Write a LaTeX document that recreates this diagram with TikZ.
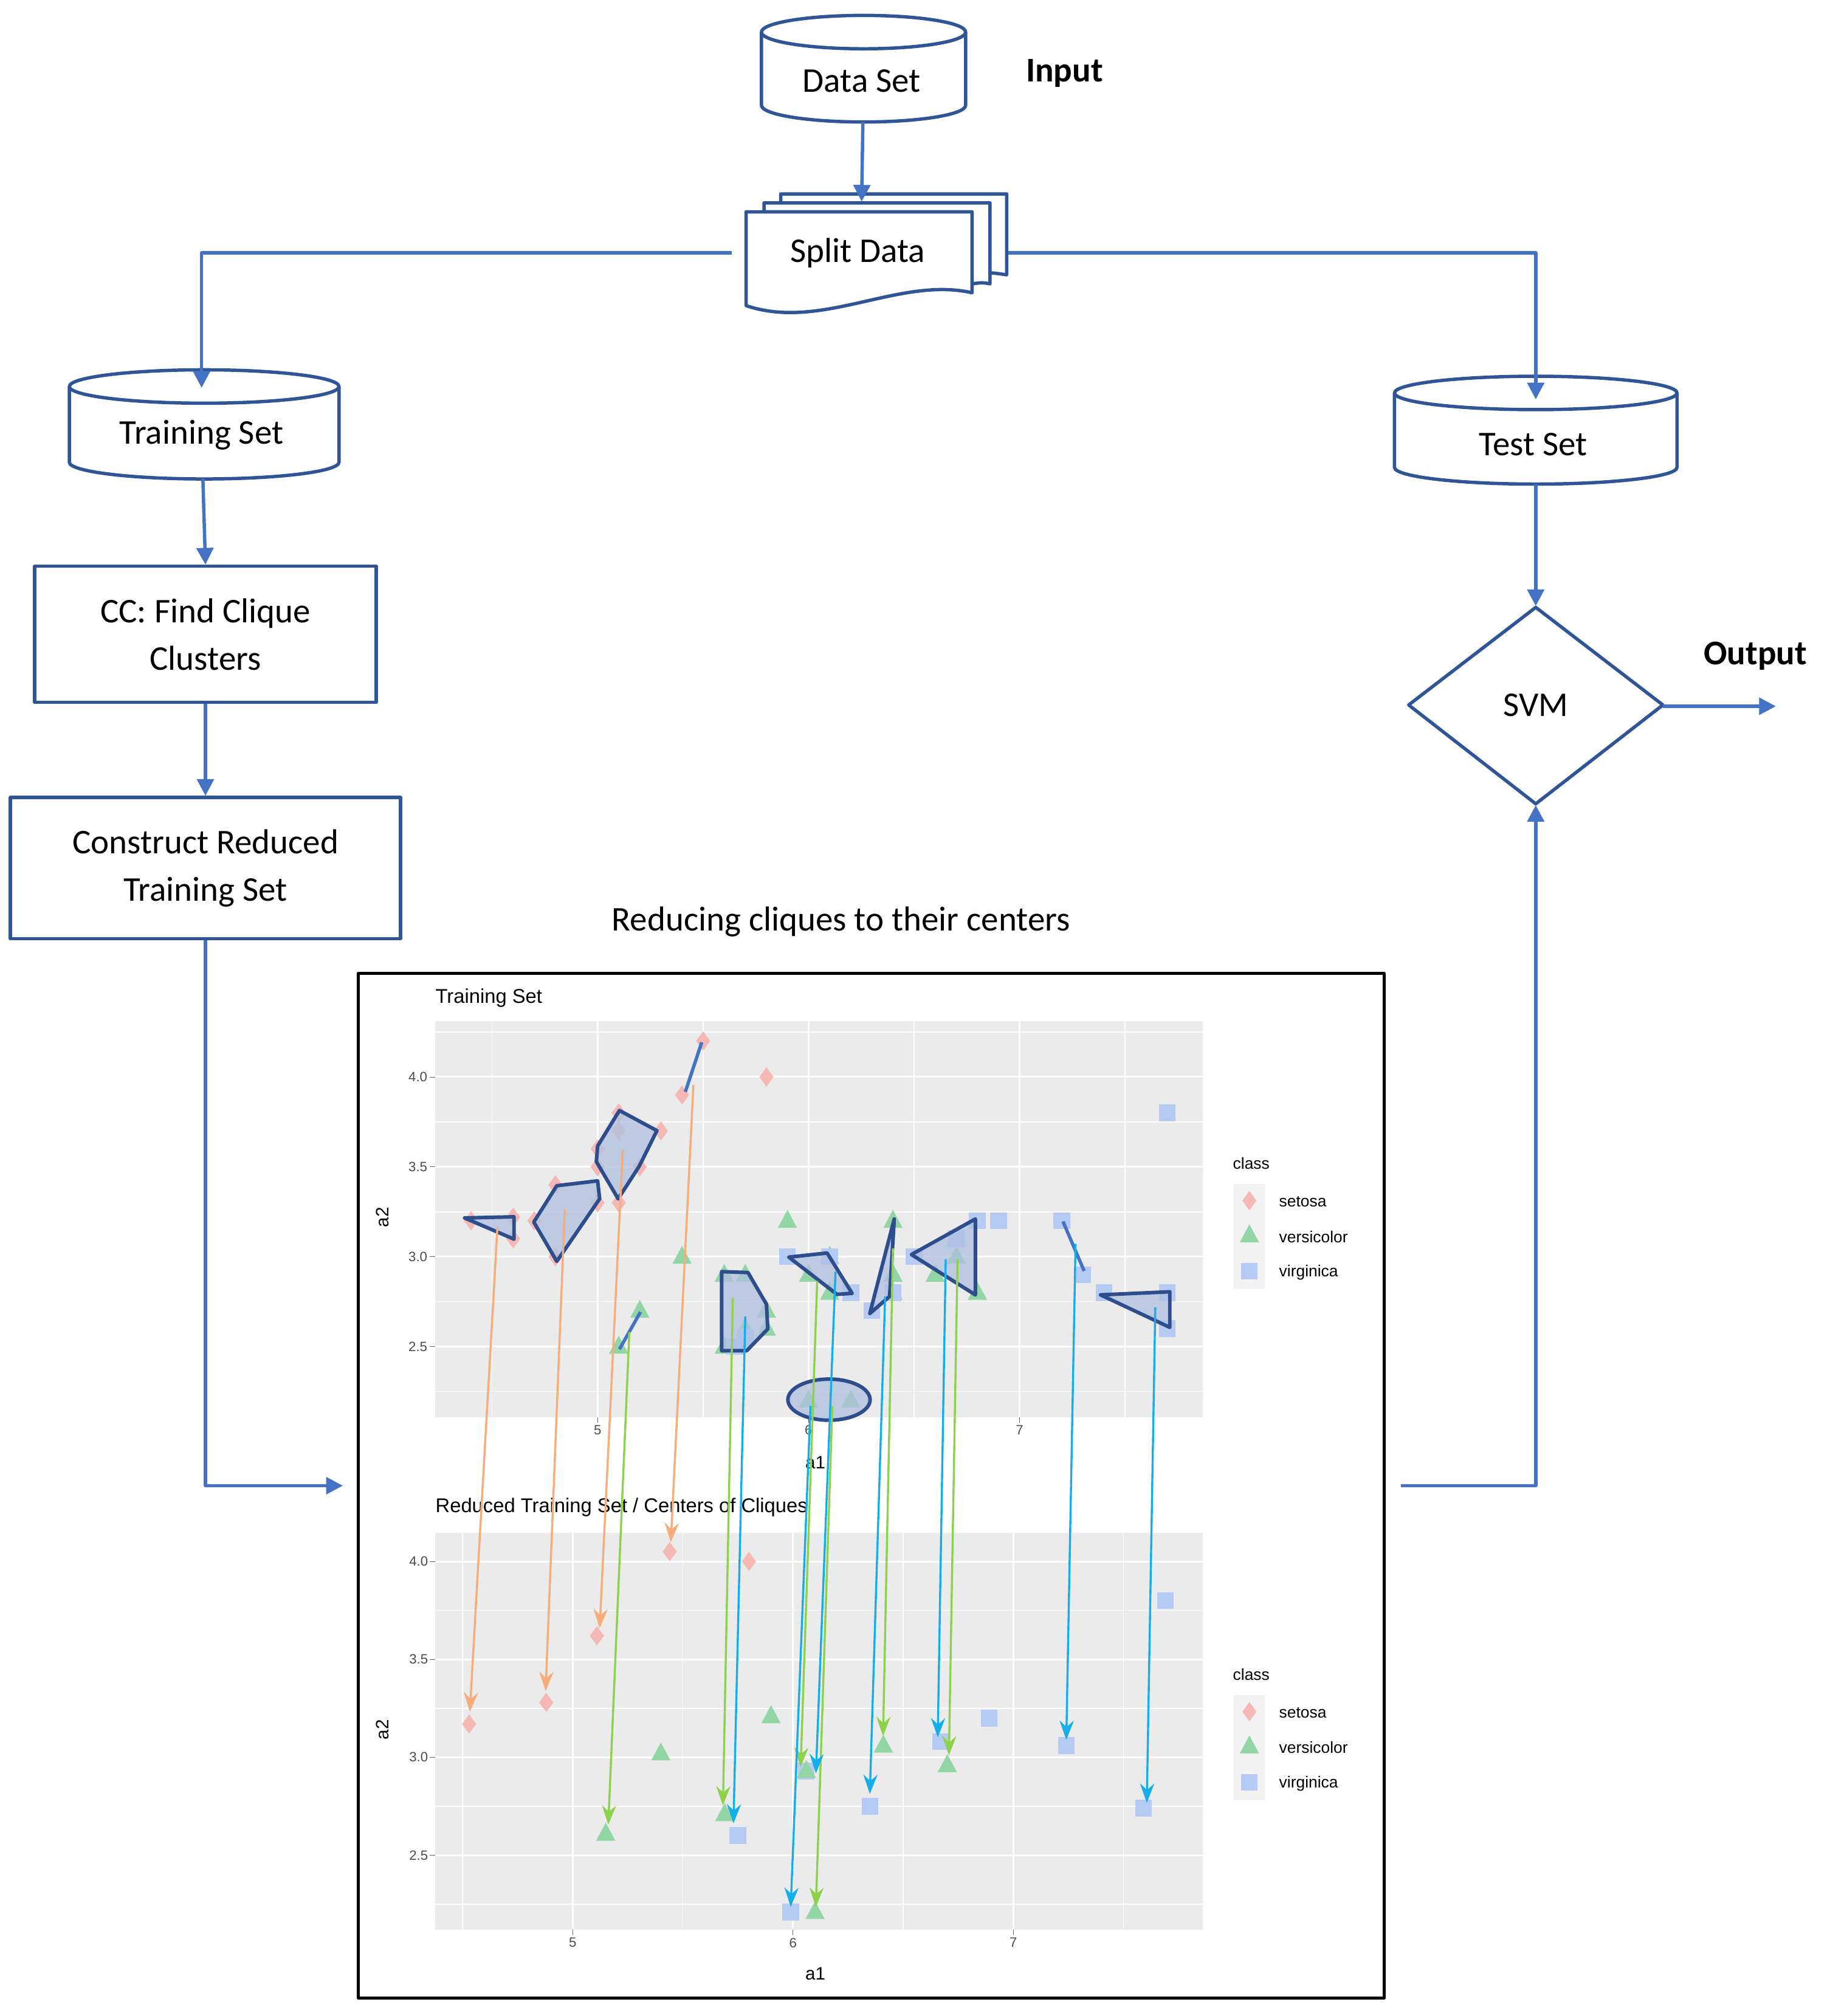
\documentclass[tikz,border=0pt]{standalone}
\usepackage{fontspec}
\setmainfont{Carlito}
\newfontfamily\plotf{Liberation Sans}
\usetikzlibrary{arrows.meta}
\definecolor{bord}{HTML}{2F5597}
\definecolor{conn}{HTML}{4472C4}
\definecolor{sef}{HTML}{F4B9B5}
\definecolor{vef}{HTML}{93D6A6}
\definecolor{vif}{HTML}{B5CBF4}
\definecolor{panel}{HTML}{EBEBEB}
\definecolor{orl}{HTML}{F7AC7A}
\definecolor{grl}{HTML}{8ED14C}
\definecolor{bll}{HTML}{14AEEA}
\definecolor{clq}{HTML}{2E4D8C}
\definecolor{clqf}{HTML}{AFC0E0}
\newcommand\ptSe[1]{\fill[sef] (#1) +(0pt,7.5pt) -- +(5.5pt,0pt) -- +(0pt,-7.5pt) -- +(-5.5pt,0pt) -- cycle;}
\newcommand\ptVe[1]{\fill[vef] (#1) +(0pt,8.5pt) -- +(7.5pt,-5.5pt) -- +(-7.5pt,-5.5pt) -- cycle;}
\newcommand\ptVi[1]{\fill[vif] (#1) +(-6.5pt,-6.5pt) rectangle +(6.5pt,6.5pt);}
\begin{document}
\begin{tikzpicture}[x=1pt,y=-1pt,line join=round,
  fc/.style={font=\fontsize{27}{33}\selectfont,align=center,inner sep=0},
  shp/.style={draw=bord,line width=2.6pt,fill=white},
  con/.style={draw=conn,line width=2.6pt},
  tip/.style={-{Triangle[length=13pt,width=13pt]}},
  tick/.style={font=\plotf\fontsize{10.5}{12}\selectfont,text=black!70,inner sep=1},
  ptitle/.style={font=\plotf\fontsize{15.5}{18}\selectfont,anchor=west,inner sep=0},
  axl/.style={font=\plotf\fontsize{14}{16}\selectfont,inner sep=0},
  leg/.style={font=\plotf\fontsize{12.5}{14}\selectfont,anchor=west,inner sep=0},
  clique/.style={draw=clq,line width=2.8pt,fill=clqf,fill opacity=0.75},
  seg/.style={draw=conn,line width=2.6pt},
  oa/.style={draw=orl,line width=1.6pt,-{Stealth[length=15pt,width=11pt,inset=5pt]}},
  ga/.style={draw=grl,line width=1.6pt,-{Stealth[length=15pt,width=11pt,inset=5pt]}},
  ba/.style={draw=bll,line width=1.6pt,-{Stealth[length=15pt,width=11pt,inset=5pt]}}]
\useasboundingbox (0,0) rectangle (1425,1570);

% ---------- Data Set cylinder
\path[shp] (593,25) -- (593,82) arc[start angle=180,end angle=360,x radius=79.5pt,y radius=13pt] -- (752,25);
\draw[shp] (672.5,25) ellipse[x radius=79.5pt,y radius=13pt];
\node[fc] (ds) at (671,63) {Data Set};
\node[fc,font=\fontsize{27}{33}\selectfont\bfseries] (inp) at (829,57) {Input};
\coordinate (dsb) at (672,95);

% ---------- Split Data (multi document)
\draw[shp] (608,151) -- (784,151) -- (784,214) .. controls (770,212) .. (760,214) -- (760,160) -- (608,160) -- cycle;
\draw[shp] (595,158) -- (771,158) -- (771,221) .. controls (765,220) .. (757,221) -- (757,165) -- (595,165) -- cycle;
\draw[shp] (581,165) -- (757,165) -- (757,228) .. controls (700,215) and (640,258) .. (581,238) -- cycle;
\node[fc] (sd) at (668,197) {Split Data};
\coordinate (sdt) at (671,157);
\coordinate (sdl) at (570,197);
\coordinate (sdr) at (785,197);

% ---------- Training Set cylinder
\path[shp] (54,301) -- (54,360) arc[start angle=180,end angle=360,x radius=105pt,y radius=13pt] -- (264,301);
\draw[shp] (159,301) ellipse[x radius=105pt,y radius=13pt];
\node[fc] (ts) at (157,339) {Training Set};
\coordinate (tst) at (157,302);
\coordinate (tsb) at (158,373);

% ---------- Test Set cylinder
\path[shp] (1086,306) -- (1086,364) arc[start angle=180,end angle=360,x radius=110pt,y radius=13pt] -- (1306,306);
\draw[shp] (1196,306) ellipse[x radius=110pt,y radius=13pt];
\node[fc] (tes) at (1194,346) {Test Set};
\coordinate (test) at (1196,311);
\coordinate (tesb) at (1196,377);

% ---------- boxes
\node[fc,shp,minimum width=266pt,minimum height=106pt] (cc) at (160,494) {CC: Find Clique\\[4pt]Clusters};
\node[fc,shp,minimum width=304pt,minimum height=110pt] (cr) at (160,676) {Construct Reduced\\[4pt]Training Set};

% ---------- SVM diamond
\draw[shp] (1196,473) -- (1295,549) -- (1196,626) -- (1097,549) -- cycle;
\node[fc] (svm) at (1196,549) {SVM};
\coordinate (svmt) at (1196,472);
\coordinate (svmb) at (1196,627);
\coordinate (svmr) at (1295,550);
\coordinate (outp) at (1383,550);
\node[fc,font=\fontsize{27}{33}\selectfont\bfseries] (outl) at (1367,511) {Output};

% ---------- connectors
\draw[con,tip] (dsb) -- (sdt);
\draw[con,tip] (sdl) -| (tst);
\draw[con,tip] (sdr) -| (test);
\draw[con,tip] (tsb) -- (cc.north);
\draw[con,tip] (cc.south) -- (cr.north);
\coordinate (plotin) at (267,1157);
\draw[con,tip] (cr.south) |- (plotin);
\draw[con,tip] (tesb) -- (svmt);
\draw[con,tip] (svmr) -- (outp);
\coordinate (plotout) at (1091,1157);
\draw[con,tip] (plotout) -| (svmb);

% ---------- plot frame and title
\node[fc] (rt) at (655,718) {Reducing cliques to their centers};
\draw[black,line width=2pt] (279,758) rectangle (1078,1556);
\node[ptitle] (t1) at (339,777) {Training Set};
\node[ptitle] (t2) at (339,1174) {Reduced Training Set / Centers of Cliques};

% ---------- top panel
\begin{scope}[shift={(-356.1,1398.7)},x=164.3pt,y=140pt]
 \fill[panel] (4.229,2.106) rectangle (7.868,4.31);
 \foreach \v in {4.5,5.5,6.5,7.5} {\draw[white,line width=0.7pt] (\v,2.106) -- (\v,4.31);}
 \foreach \v in {2.25,2.75,3.25,3.75,4.25} {\draw[white,line width=0.7pt] (4.229,\v) -- (7.868,\v);}
 \foreach \v in {5,6,7} {\draw[white,line width=1.4pt] (\v,2.106) -- (\v,4.31);}
 \foreach \v in {2.5,3,3.5,4} {\draw[white,line width=1.4pt] (4.229,\v) -- (7.868,\v);}
 \foreach \v in {5,6,7} {\draw[black!60] (\v,2.106) -- ++(0pt,-4pt); \node[tick,below] (tx\v) at (\v,2.07) {\v};}
 \foreach \v/\l in {2.5/2.5,3/3.0,3.5/3.5,4/4.0} {\draw[black!60] (4.229,\v) -- ++(-4pt,0pt); \node[tick,left] (ty\v) at (4.20,\v) {\l};}
 \foreach \p in {{4.4,3.2},{4.6,3.22},{4.6,3.1},{4.7,3.2},{4.8,3.4},{4.8,3.0},{5.0,3.6},{5.0,3.5},{5.0,3.3},{5.1,3.8},{5.1,3.7},{5.1,3.3},{5.3,3.7},{5.2,3.5},{5.4,3.9},{5.5,4.2},{5.8,4.0}} {\ptSe{\p}}
 \foreach \p in {{5.9,3.2},{5.4,3.0},{5.2,2.7},{5.1,2.5},{5.6,2.9},{5.7,2.9},{5.6,2.5},{5.8,2.6},{5.7,2.6},{5.8,2.7},{6.1,3.0},{6.0,2.9},{6.1,2.8},{6.4,3.2},{6.4,2.9},{6.4,2.8},{6.6,2.9},{6.7,3.1},{6.7,3.0},{6.8,2.8},{6.0,2.2},{6.2,2.2}} {\ptVe{\p}}
 \foreach \p in {{7.7,3.8},{6.8,3.2},{6.9,3.2},{7.2,3.2},{5.9,3.0},{6.1,3.0},{6.2,2.8},{6.3,2.7},{6.4,2.8},{6.5,3.0},{6.7,3.1},{7.3,2.9},{7.4,2.8},{7.7,2.8},{7.7,2.6},{5.7,2.55},{5.65,2.5}} {\ptVi{\p}}
\end{scope}

% cliques (top)
\path[clique] (361.8,948.5) -- (400.3,947.6) -- (400.3,965) -- cycle;
\path[clique] (415.7,951.7) -- (433.6,923.4) -- (465.4,919.6) -- (467,933.6) -- (433.6,982.3) -- cycle;
\path[clique] (464.4,904.6) -- (465.4,892.5) -- (482.4,864.8) -- (511.6,880.5) -- (497.8,908.2) -- (481.4,933.6) -- cycle;
\path[clique] (562,990.3) -- (582.5,991) -- (596.9,1015.7) -- (597.9,1035) -- (581.5,1051.9) -- (562,1051.9) -- cycle;
\path[clique] (614.3,979) -- (644.1,975.8) -- (663.6,1007.2) -- (651.8,1008) -- cycle;
\path[clique] (677.4,1022.9) -- (696.4,949.3) -- (692.8,1009.6) -- cycle;
\path[clique] (709.8,977) -- (759.6,949.3) -- (759.6,1008.4) -- cycle;
\path[clique] (857.1,1008.4) -- (911,1006) -- (911,1033.7) -- cycle;
\path[clique] (645.6,1090) ellipse[x radius=32pt,y radius=16pt];
\draw[seg] (533.7,850.3) -- (546.5,811.7);
\draw[seg] (482.4,1050.7) -- (498.8,1021.7);
\draw[seg] (827.8,951.2) -- (844.3,989.8);

% ---------- bottom panel
\begin{scope}[shift={(-412,1826)},x=171.6pt,y=152.5pt]
 \fill[panel] (4.375,2.118) rectangle (7.86,4.146);
 \foreach \v in {4.5,5.5,6.5,7.5} {\draw[white,line width=0.7pt] (\v,2.118) -- (\v,4.146);}
 \foreach \v in {2.25,2.75,3.25,3.75} {\draw[white,line width=0.7pt] (4.375,\v) -- (7.86,\v);}
 \foreach \v in {5,6,7} {\draw[white,line width=1.4pt] (\v,2.118) -- (\v,4.146);}
 \foreach \v in {2.5,3,3.5,4} {\draw[white,line width=1.4pt] (4.375,\v) -- (7.86,\v);}
 \foreach \v in {5,6,7} {\draw[black!60] (\v,2.118) -- ++(0pt,-4pt); \node[tick,below] (bx\v) at (\v,2.085) {\v};}
 \foreach \v/\l in {2.5/2.5,3/3.0,3.5/3.5,4/4.0} {\draw[black!60] (4.375,\v) -- ++(-4pt,0pt); \node[tick,left] (by\v) at (4.35,\v) {\l};}
 \foreach \p in {{4.53,3.17},{4.88,3.28},{5.11,3.62},{5.44,4.05},{5.8,4.0}} {\ptSe{\p}}
 \foreach \p in {{6.06,2.93},{6.67,3.08},{6.35,2.75},{5.75,2.6},{7.59,2.74},{5.99,2.21},{7.69,3.8},{6.89,3.2},{7.24,3.06}} {\ptVi{\p}}
 \foreach \p in {{5.9,3.21},{5.4,3.02},{5.15,2.61},{5.69,2.71},{6.06,2.93},{6.41,3.06},{6.7,2.96},{6.1,2.21}} {\ptVe{\p}}
\end{scope}

% axis labels
\node[axl] (xa1) at (635,1139) {a1};
\node[axl] (xa2) at (635,1537) {a1};
\node[axl,rotate=90] (ya1) at (298,948) {a2};
\node[axl,rotate=90] (ya2) at (298,1347) {a2};

% legends
\foreach \yy/\n in {906/1,1304/2} {
 \node[leg] (cl\n) at (960,\yy) {class};
 \fill[black!5] (961,\yy+16) rectangle (985,\yy+98);
 \ptSe{973,\yy+29} \ptVe{973,\yy+56} \ptVi{973,\yy+84}
 \node[leg] (ls\n) at (996,\yy+30) {setosa};
 \node[leg] (lv\n) at (996,\yy+57) {versicolor};
 \node[leg] (lg\n) at (996,\yy+85) {virginica};
}

% ---------- arrows top -> bottom
\coordinate (o1s) at (387.4,955.3); \coordinate (o1e) at (365.9,1333);
\coordinate (o2s) at (439.8,942); \coordinate (o2e) at (424.9,1317);
\coordinate (o3s) at (485,895.4); \coordinate (o3e) at (467,1268);
\coordinate (o4s) at (540,845); \coordinate (o4e) at (522.4,1201);
\foreach \i in {1,...,4} {\draw[oa] (o\i s) -- (o\i e);}
\coordinate (g1s) at (490.1,1037.4); \coordinate (g1e) at (473.7,1421);
\coordinate (g2s) at (570.7,1010.8); \coordinate (g2e) at (563,1406);
\coordinate (g3s) at (636.4,997.5); \coordinate (g3e) at (623.5,1376);
\coordinate (g4s) at (648.2,1095.3); \coordinate (g4e) at (635.4,1485);
\coordinate (g5s) at (695.4,972.2); \coordinate (g5e) at (687.7,1352);
\coordinate (g6s) at (745.7,980.6); \coordinate (g6e) at (739,1367);
\foreach \i in {1,...,6} {\draw[ga] (g\i s) -- (g\i e);}
\coordinate (b1s) at (580.4,1025.3); \coordinate (b1e) at (571.2,1420);
\coordinate (b2s) at (650.7,990.3); \coordinate (b2e) at (635.4,1381);
\coordinate (b3s) at (631.2,1094.8); \coordinate (b3e) at (615.8,1485);
\coordinate (b4s) at (689.3,1009.6); \coordinate (b4e) at (677.4,1397);
\coordinate (b5s) at (736.5,980.6); \coordinate (b5e) at (730.3,1353);
\coordinate (b6s) at (837.6,968.6); \coordinate (b6e) at (830.4,1355);
\coordinate (b7s) at (899.7,1018.1); \coordinate (b7e) at (893.1,1404);
\foreach \i in {1,...,7} {\draw[ba] (b\i s) -- (b\i e);}
\end{tikzpicture}
\end{document}
